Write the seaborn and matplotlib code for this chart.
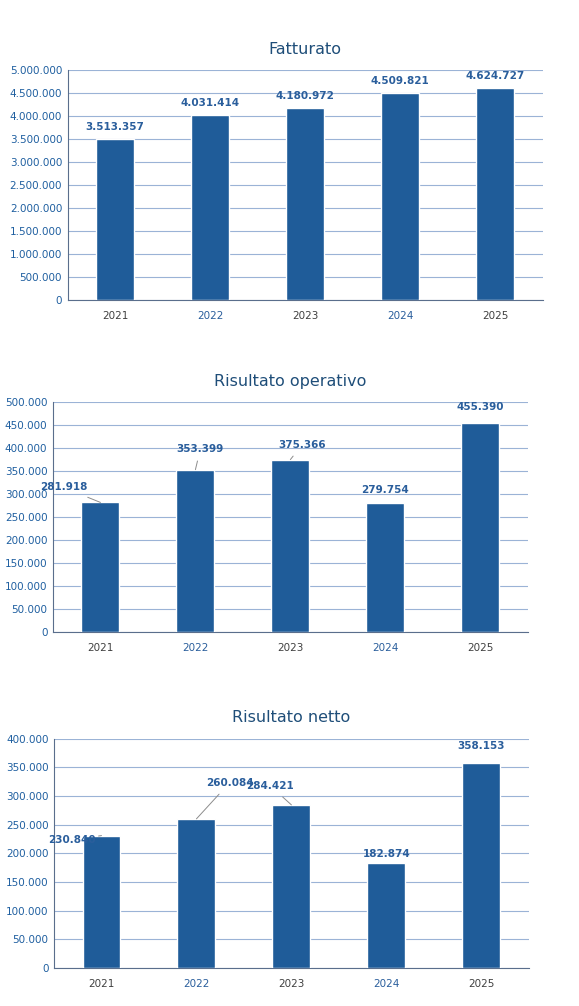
import numpy as np
import pandas as pd
import seaborn as sns
import matplotlib
matplotlib.use("Agg")
import matplotlib.pyplot as plt
from matplotlib.ticker import FuncFormatter, FixedLocator

years = ["2021", "2022", "2023", "2024", "2025"]
fatturato = [3513357, 4031414, 4180972, 4509821, 4624727]
ris_operativo = [281918, 353399, 375366, 279754, 455390]
ris_netto = [230840, 260084, 284421, 182874, 358153]

sns.set_theme(style="white")
plt.rcParams['font.family'] = ['DejaVu Sans']

BAR = "#1F5C99"
LBL = "#2A5E9C"
GRID = "#9BB3D6"
DARK = "#404040"


def fmt(v):
    return f"{int(v):,}".replace(",", ".")


def draw(ax, values, title, ymax, step, offsets):
    df = pd.DataFrame({"anno": years, "valore": values})
    sns.barplot(data=df, x="anno", y="valore", color=BAR, width=0.4,
                saturation=1, ax=ax, zorder=3)
    ax.set_ylim(0, ymax)
    ax.set_xlim(-0.5, 4.5)
    ax.set_yticks(np.arange(0, ymax + 1, step))
    ax.yaxis.set_major_formatter(FuncFormatter(lambda v, p: fmt(v)))
    ax.grid(axis="y", color=GRID, linewidth=0.8, zorder=0)
    ax.set_xlabel("")
    ax.set_ylabel("")
    ax.set_title(title, color="#1F4E79", fontsize=11.5, pad=12)
    for s in ["top", "right"]:
        ax.spines[s].set_visible(False)
    for s in ["left", "bottom"]:
        ax.spines[s].set_color("#5A6E8C")
        ax.spines[s].set_linewidth(0.8)
    ax.tick_params(axis="y", labelsize=7.5, colors="#1F5FA0", length=0, pad=4)
    ax.tick_params(axis="x", labelsize=7.5, length=0, pad=8)
    ax.xaxis.set_minor_locator(FixedLocator(np.arange(-0.5, 5, 1)))
    ax.tick_params(axis="x", which="minor", length=5, color="#5A6E8C", direction="out")
    for i, t in enumerate(ax.get_xticklabels()):
        t.set_color(LBL if i % 2 else DARK)
    for i, v in enumerate(values):
        dx, dy = offsets[i]
        props = dict(arrowstyle="-", color="#8C8C8C", lw=0.7, shrinkA=3, shrinkB=0) if dx else None
        ax.annotate(fmt(v), xy=(i, v), xytext=(dx, dy), textcoords="offset pixels",
                    ha="center", va="center", fontsize=7.5, fontweight="bold",
                    color=LBL, arrowprops=props, zorder=5)


fig = plt.figure(figsize=(5.79, 10.06), dpi=100)
ax1 = fig.add_axes([0.117, 0.702, 0.820, 0.228])
ax2 = fig.add_axes([0.0915, 0.372, 0.820, 0.228])
ax3 = fig.add_axes([0.0933, 0.0378, 0.820, 0.228])

draw(ax1, fatturato, "Fatturato", 5000000, 500000, [(0, 12)] * 5)
draw(ax2, ris_operativo, "Risultato operativo", 500000, 50000,
     [(-37, 15), (5, 21), (12, 15), (0, 13), (0, 16)])
draw(ax3, ris_netto, "Risultato netto", 400000, 50000,
     [(-30, -4), (33, 36), (-21, 19), (0, 9), (0, 17)])

fig.savefig("out.png", dpi=100)
